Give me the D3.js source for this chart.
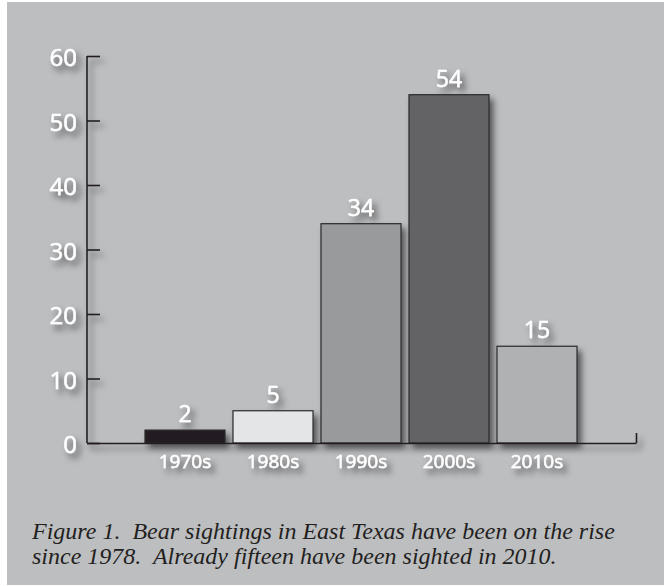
<!DOCTYPE html>
<html>
<head>
<meta charset="utf-8">
<script src="https://cdn.jsdelivr.net/npm/d3@7.9.0/dist/d3.min.js"></script>
<style>
  body { margin: 0; background: #fff; }
  svg { display: block; }
</style>
</head>
<body>
<svg width="664" height="586"></svg>
<script>
const decades = ['1970s', '1980s', '1990s', '2000s', '2010s'];
const sightings = [2, 5, 34, 54, 15];
const barColors = ['#231f20', '#e4e5e6', '#999a9c', '#636466', '#b0b1b3'];
const yTicks = [0, 10, 20, 30, 40, 50, 60];
const captionLines = [
  'Figure 1.  Bear sightings in East Texas have been on the rise',
  'since 1978.  Already fifteen have been sighted in 2010.'
];

const svg = d3.select('svg');

// soft drop shadow like the print original
const defs = svg.append('defs');
defs.append('filter')
  .attr('id', 'shadow')
  .attr('x', '-20%').attr('y', '-20%')
  .attr('width', '150%').attr('height', '150%')
  .append('feDropShadow')
  .attr('dx', 4).attr('dy', 5)
  .attr('stdDeviation', 3)
  .attr('flood-color', '#000')
  .attr('flood-opacity', 0.55);

svg.append('rect')
  .attr('x', 7).attr('y', 2)
  .attr('width', 657).attr('height', 583)
  .attr('fill', '#bdbec0');

const x = d3.scaleBand()
  .domain(decades)
  .range([141, 581])
  .paddingInner(8 / 88)
  .paddingOuter(4 / 88);

const y = d3.scaleLinear()
  .domain([0, 60])
  .range([443, 56]);

const g = svg.append('g').attr('filter', 'url(#shadow)');

// y axis
const yAxis = d3.axisRight(y).tickValues(yTicks).tickSize(13).tickFormat('');
const yg = g.append('g').attr('transform', 'translate(87,0)').call(yAxis);
yg.select('.domain').remove();
yg.selectAll('.tick line').attr('stroke', '#231f20').attr('stroke-width', 1.6);
yg.append('line')
  .attr('y1', y(60)).attr('y2', y(0))
  .attr('stroke', '#231f20').attr('stroke-width', 1.6);

function whiteLabel(sel, size) {
  sel.attr('font-family', 'Open Sans')
    .attr('font-size', size)
    .attr('fill', '#fff')
    .attr('stroke', '#fff')
    .attr('stroke-width', 0.5);
}

g.selectAll('.ylabel')
  .data(yTicks)
  .join('text')
  .attr('class', 'ylabel')
  .attr('x', 77)
  .attr('y', d => y(d) + 10)
  .attr('text-anchor', 'end')
  .call(whiteLabel, 24)
  .text(d => d);

// bars
g.selectAll('.bar')
  .data(sightings)
  .join('rect')
  .attr('class', 'bar')
  .attr('x', (d, i) => x(decades[i]))
  .attr('y', d => y(d))
  .attr('width', x.bandwidth())
  .attr('height', d => y(0) - y(d))
  .attr('fill', (d, i) => barColors[i])
  .attr('stroke', '#2a2a2a')
  .attr('stroke-width', 1.2);

// x axis line with end tick
const xAxis = d3.axisTop(d3.scaleLinear().domain([0, 1]).range([87, 636]))
  .tickValues([1]).tickSize(10).tickSizeOuter(0).tickFormat('');
const xg = g.append('g').attr('transform', `translate(0,${y(0)})`).call(xAxis);
xg.select('.domain').attr('stroke', '#231f20').attr('stroke-width', 1.6);
xg.selectAll('.tick line').attr('stroke', '#231f20').attr('stroke-width', 1.6);

// value labels
g.selectAll('.vlabel')
  .data(sightings)
  .join('text')
  .attr('class', 'vlabel')
  .attr('x', (d, i) => x(decades[i]) + x.bandwidth() / 2)
  .attr('y', d => y(d) - 8)
  .attr('text-anchor', 'middle')
  .call(whiteLabel, 23)
  .text(d => d);

// category labels
g.selectAll('.clabel')
  .data(decades)
  .join('text')
  .attr('class', 'clabel')
  .attr('x', d => x(d) + x.bandwidth() / 2)
  .attr('y', 468)
  .attr('text-anchor', 'middle')
  .call(whiteLabel, 19)
  .text(d => d);

// caption
svg.selectAll('.caption')
  .data(captionLines)
  .join('text')
  .attr('class', 'caption')
  .attr('x', 32)
  .attr('y', (d, i) => 539 + i * 25)
  .attr('font-family', 'Liberation Serif')
  .attr('font-style', 'italic')
  .attr('font-size', 24)
  .attr('fill', '#231f20')
  .style('white-space', 'pre')
  .text(d => d);
</script>
</body>
</html>
